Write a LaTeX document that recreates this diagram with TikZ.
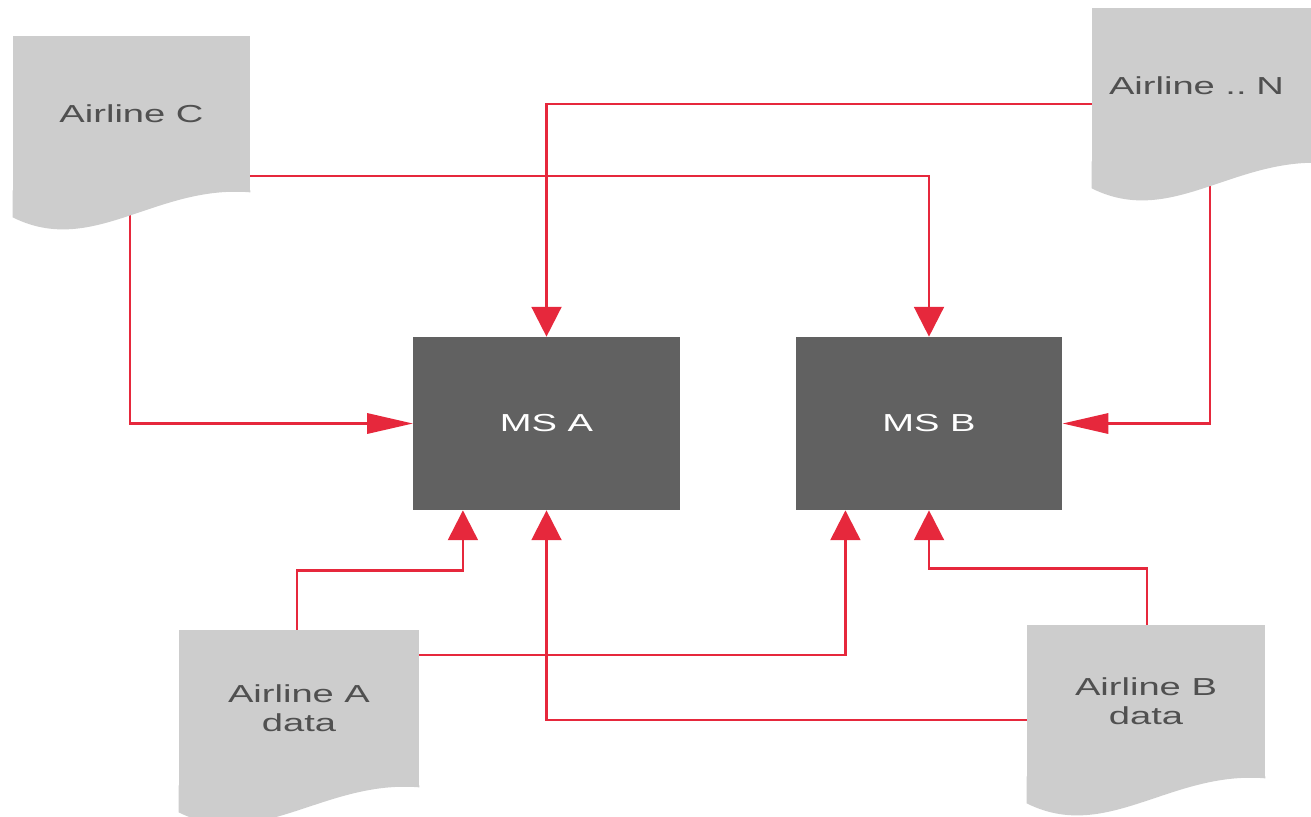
\documentclass[tikz,border=0pt]{standalone}
\usepackage{fontspec}
\setmainfont{Liberation Sans}
\newfontfamily\widesans[FakeStretch=1.55]{Liberation Sans}
\usetikzlibrary{arrows.meta,calc,backgrounds}

\definecolor{docgray}{HTML}{CDCDCD}
\definecolor{docink}{HTML}{505050}
\definecolor{msgray}{HTML}{616161}
\definecolor{linkred}{HTML}{E6283C}

\tikzset{
  docbody/.style={rectangle, fill=docgray, inner sep=0pt, align=center,
    text=docink, font=\widesans\fontsize{14}{16.6}\selectfont},
  service/.style={rectangle, fill=msgray, inner sep=0pt,
    minimum width=5.33cm, minimum height=3.46cm,
    text=white, font=\widesans\fontsize{14}{16.6}\selectfont},
  flow/.style={draw=linkred, line width=1.4pt, line join=miter},
  tipv/.style={-{Triangle[length=17pt,width=17pt]}},
  tiph/.style={-{Triangle[length=26pt,width=11.5pt]}},
}

% wavy lower edge of a document shape, hung below the node's south side
\newcommand\docwave[1]{%
  \fill[docgray] ($(#1.south east)+(0,-2)$) -- (#1.south east)
    .. controls ($(#1.south east)+(-95,-8)$) and ($(#1.south west)+(80,65)$)
    .. ($(#1.south west)+(0,25)$) -- ($(#1.south west)+(0,-2)$) -- cycle;}

\begin{document}
\begin{tikzpicture}[x=0.02cm, y=-0.02cm]
  \useasboundingbox (0,0) rectangle (1311,816);
  \clip (0,0) rectangle (1311,816);

  % data sources
  \node[docbody, minimum width=4.74cm, minimum height=3.12cm] (airC) at (131.5,114) {Airline C};
  \node[docbody, minimum width=4.74cm, minimum height=3.10cm] (airN) at (1210.5,85.5) {\hspace*{-16pt}Airline ..\hspace{5.5pt}N};
  \node[docbody, minimum width=4.80cm, minimum height=3.14cm] (airA) at (299,708.5) {Airline A\\data};
  \node[docbody, minimum width=4.76cm, minimum height=3.06cm] (airB) at (1146,701.5) {Airline B\\data};
  \docwave{airC}
  \docwave{airN}
  \docwave{airA}
  \docwave{airB}

  % services
  \node[service] (msA) at (546.5,423.5) {MS A};
  \node[service] (msB) at (929,423.5) {MS B};

  % feeds
  \begin{scope}[on background layer]
    \draw[flow,tipv] ($(airC.east)+(-10,62)$) -| (msB.north);
    \draw[flow,tiph] ($(airC.center)+(-1.5,0)$) |- (msA.west);
    \draw[flow,tipv] ($(airN.west)+(10,18.5)$) -| (msA.north);
    \draw[flow,tiph] ($(airN.center)+(-0.5,0)$) |- (msB.east);
    \draw[flow,tipv] ($(airA.center)+(-2,0)$) |- ($(msA.south west)+(50,60)$) -- ($(msA.south west)+(50,0)$);
    \draw[flow,tipv] ($(airA.east)+(-10,-53.5)$) -| ($(msB.south west)+(50,0)$);
    \draw[flow,tipv] ($(airB.west)+(10,18.5)$) -| (msA.south);
    \draw[flow,tipv] ($(airB.center)+(1,0)$) |- ($(msB.south)+(0,58)$) -- (msB.south);
  \end{scope}
\end{tikzpicture}
\end{document}
